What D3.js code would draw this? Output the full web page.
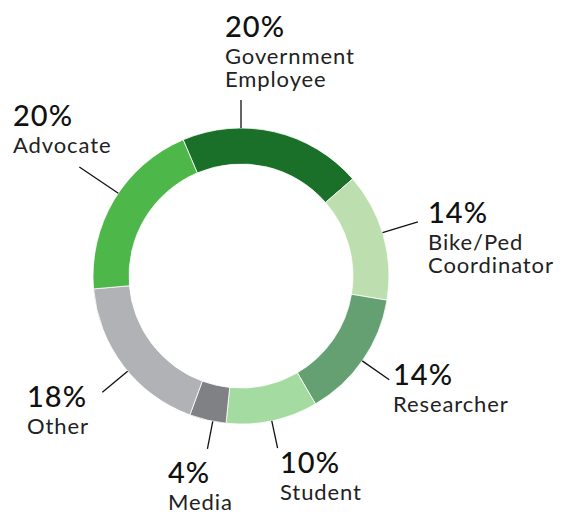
<!DOCTYPE html>
<html>
<head>
<meta charset="utf-8">
<script src="https://cdn.jsdelivr.net/npm/d3@7"></script>
<style>
  body { margin: 0; background: #fff; }
  svg { display: block; }
</style>
</head>
<body>
<div id="chart"></div>
<script>
var svgWidth = 569;
var svgHeight = 512;

// data
var categories = ["Government Employee", "Bike/Ped Coordinator", "Researcher", "Student", "Media", "Other", "Advocate"];
var shares = [20, 14, 14, 10, 4, 18, 20];
var labelLines = [["Government", "Employee"], ["Bike/Ped", "Coordinator"], ["Researcher"], ["Student"], ["Media"], ["Other"], ["Advocate"]];
var colors = ["#1b7029", "#bddeaf", "#64a071", "#a4dba1", "#808184", "#b1b2b5", "#4db749"];

// label placement: text anchor (x, baseline of %), leader angle (deg) and leader end radius
var labelLayout = [
  { x: 225, y: 37,  angle: 0,   r2: 176 },
  { x: 428, y: 223, angle: 73,  r2: 185 },
  { x: 393, y: 385, angle: 125, r2: 181 },
  { x: 280, y: 473, angle: 168, r2: 176 },
  { x: 168, y: 483, angle: 191, r2: 176 },
  { x: 27,  y: 407, angle: 230, r2: 181 },
  { x: 13,  y: 126, angle: 304, r2: 195 }
];

var cx = 241, cy = 276;
var outerR = 148, innerR = 112;
var startDeg = -23;

var svg = d3.select("#chart")
  .append("svg")
  .attr("width", svgWidth)
  .attr("height", svgHeight);

var pie = d3.pie()
  .sort(null)
  .value(d => d)
  .startAngle(startDeg * Math.PI / 180)
  .endAngle((startDeg + 360) * Math.PI / 180);

var arc = d3.arc()
  .innerRadius(innerR)
  .outerRadius(outerR);

var arcs = pie(shares);

var ring = svg.append("g")
  .attr("transform", `translate(${cx}, ${cy})`);

ring.selectAll("path")
  .data(arcs)
  .enter()
  .append("path")
  .attr("d", arc)
  .attr("fill", (d, i) => colors[i])
  .attr("stroke", "#fff")
  .attr("stroke-width", 0.8);

// leader lines
function polar(r, deg) {
  var a = deg * Math.PI / 180;
  return [r * Math.sin(a), -r * Math.cos(a)];
}

ring.selectAll("line")
  .data(labelLayout)
  .enter()
  .append("line")
  .attr("x1", d => polar(outerR, d.angle)[0])
  .attr("y1", d => polar(outerR, d.angle)[1])
  .attr("x2", d => polar(d.r2, d.angle)[0])
  .attr("y2", d => polar(d.r2, d.angle)[1])
  .attr("stroke", "#111")
  .attr("stroke-width", 1.3);

// labels
var labels = svg.append("g").selectAll("g")
  .data(categories)
  .enter()
  .append("g")
  .attr("transform", (d, i) => `translate(${labelLayout[i].x}, ${labelLayout[i].y})`);

labels.append("text")
  .text((d, i) => shares[i] + "%")
  .attr("font-family", "Lato, sans-serif")
  .attr("font-size", "29px")
  .attr("font-weight", "500")
  .attr("letter-spacing", "1px")
  .attr("fill", "#111");

labels.each(function(d, i) {
  var g = d3.select(this);
  labelLines[i].forEach(function(line, j) {
    g.append("text")
      .attr("y", 27 + j * 23)
      .text(line)
      .attr("font-family", "Lato, sans-serif")
      .attr("font-size", "22px")
      .attr("letter-spacing", "0.9px")
      .attr("fill", "#222");
  });
});
</script>
</body>
</html>
